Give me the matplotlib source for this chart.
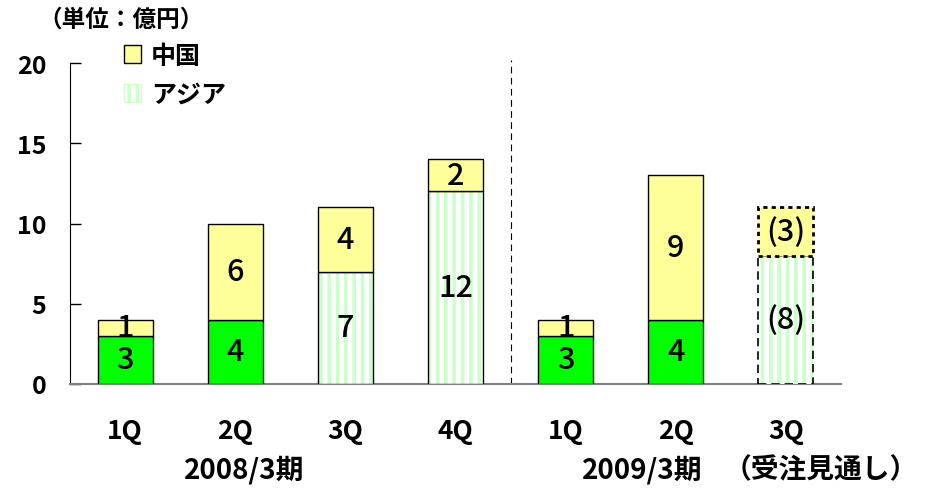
import matplotlib.pyplot as plt
import numpy as np
from matplotlib.patches import Patch

quarters = ['1Q', '2Q', '3Q', '4Q', '1Q', '2Q', '3Q']
domestic = [3, 4, 0, 0, 3, 4, 0]
asia = [0, 0, 7, 12, 0, 0, 8]
china = [1, 6, 4, 2, 1, 9, 3]
forecast = [False, False, False, False, False, False, True]
periods = ['2008/3期', '2009/3期']

plt.rcParams['font.family'] = ['Noto Sans CJK JP', 'DejaVu Sans']
plt.rcParams['font.weight'] = 'bold'
plt.rcParams['hatch.linewidth'] = 2.6

fig = plt.figure(figsize=(9.29, 4.89), dpi=100)
ax = fig.add_axes([70/929, 104/489, 771/929, 321/489])

x = np.arange(len(quarters))
w = 0.5
dom = np.array(domestic)
asi = np.array(asia)
chn = np.array(china)
fc = np.array(forecast)

# green (no legend entry)
m = dom > 0
ax.bar(x[m], dom[m], w, color='#00ff00', edgecolor='black', lw=1, zorder=3)

# asia: stripes then outline
m = asi > 0
ax.bar(x[m], asi[m], w, color='white', edgecolor='#ccffcc', hatch='||', lw=0, zorder=3)
for xi, v, f in zip(x[m], asi[m], fc[m]):
    if f:
        ax.bar(xi, v, w, color='none', edgecolor='black', lw=1.2, ls=(0, (5, 3)), zorder=4)
    else:
        ax.bar(xi, v, w, color='none', edgecolor='black', lw=1, zorder=4)

# china
bottom = dom + asi
for xi, v, b, f in zip(x, chn, bottom, fc):
    if f:
        ax.bar(xi, v, w, bottom=b, color='#ffff99', edgecolor='black', lw=2, ls=(0, (1.5, 1.5)), zorder=4)
    else:
        ax.bar(xi, v, w, bottom=b, color='#ffff99', edgecolor='black', lw=1, zorder=4)

# value labels
for xi, d, a, c, f in zip(x, dom, asi, chn, fc):
    for base, v in ((0, d), (d, a), (d + a, c)):
        if v > 0:
            s = f'({v})' if f else f'{v}'
            ax.text(xi, base + v / 2, s, ha='center', va='center', fontsize=22,
                    fontweight='medium', zorder=6)

ax.axvline(3.5, ymin=0, ymax=1.01, color='black', lw=0.8, ls=(0, (6, 4)), clip_on=False)

ax.set_xlim(-0.5, 6.5)
ax.set_ylim(0, 20)
ax.set_yticks([0, 5, 10, 15, 20])
ax.set_xticks(x)
ax.set_xticklabels(quarters)
ax.tick_params(axis='y', direction='in', length=8, pad=17, labelsize=18, width=1)
ax.tick_params(axis='x', length=0, pad=24, labelsize=19)
for s in ['top', 'right']:
    ax.spines[s].set_visible(False)
ax.spines['bottom'].set_color('#808080')
ax.spines['bottom'].set_linewidth(1.5)

fig.text(244/929, 1 - 470/489, periods[0], ha='center', va='center', fontsize=20)
fig.text(642/929, 1 - 470/489, periods[1], ha='center', va='center', fontsize=20)
fig.text(724/929, 1 - 470/489, '（受注見通し）', ha='left', va='center', fontsize=20)

fig.text(38/929, 1 - 20/489, '（単位：億円）', ha='left', va='center', fontsize=17)

handles = [Patch(facecolor='#ffff99', edgecolor='black', lw=1),
           Patch(facecolor='white', edgecolor='#ccffcc', hatch='||', lw=1)]
leg = fig.legend(handles, ['中国', 'アジア'], loc='upper left', bbox_to_anchor=(101/929, 1 - 22/489),
                 frameon=False, handlelength=0.7, handleheight=0.7, handletextpad=0.4,
                 labelspacing=0.6, prop={'size': 18, 'weight': 'bold'})

fig.savefig('out.png', dpi=100)
